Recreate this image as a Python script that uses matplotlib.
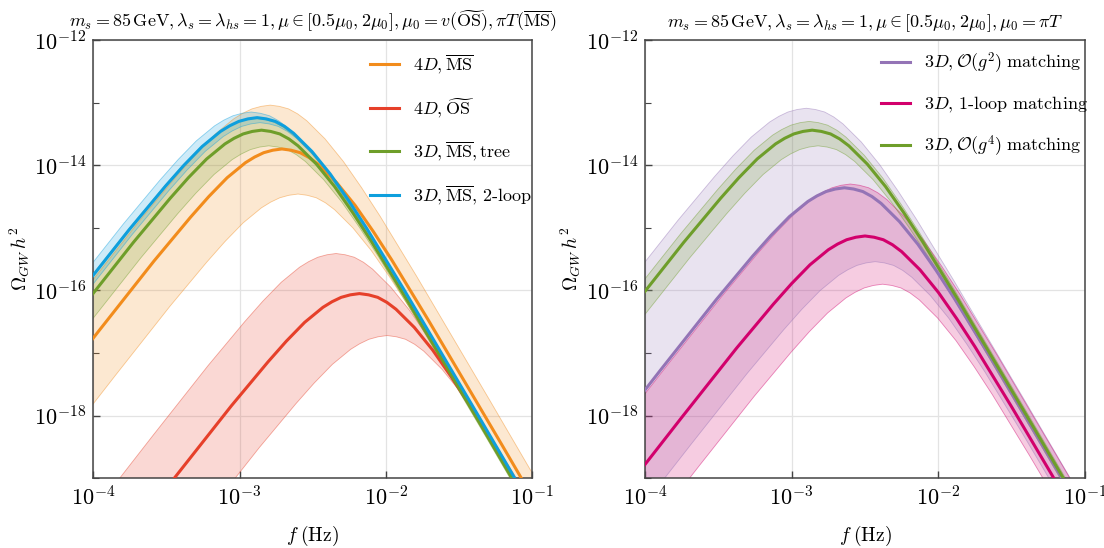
import matplotlib
matplotlib.use('Agg')
import matplotlib.pyplot as plt
import matplotlib.ticker as mticker
import numpy as np

plt.rcParams['mathtext.fontset'] = 'cm'
plt.rcParams['font.family'] = ['cmr10', 'DejaVu Serif']
plt.rcParams['axes.formatter.use_mathtext'] = True
plt.rcParams['axes.unicode_minus'] = False

# log10(f / Hz) and log10(Omega_GW h^2) along each spectrum
# --- left panel: 4D vs 3D, mu0 = v (OS) / pi T (MS)
f_4d_ms = [-4.71, -4.21, -3.96, -3.71, -3.585, -3.46, -3.335, -3.21, -3.085, -2.96, -2.8975, -2.835, -2.7725, -2.71, -2.6475, -2.585, -2.5225, -2.46, -2.335, -2.21, -2.085, -1.96, -1.835, -1.71, -1.46, -1.21, -0.71]
om_4d_ms = [-18.89, -17.39, -16.64, -15.90, -15.53, -15.18, -14.83, -14.50, -14.20, -13.96, -13.87, -13.80, -13.76, -13.74, -13.76, -13.80, -13.88, -13.99, -14.28, -14.64, -15.06, -15.51, -15.99, -16.47, -17.46, -18.45, -20.45]
f_4d_ms_hi = [-4.79, -4.29, -4.04, -3.79, -3.665, -3.54, -3.415, -3.29, -3.165, -3.04, -2.9775, -2.915, -2.8525, -2.79, -2.7275, -2.665, -2.6025, -2.54, -2.415, -2.29, -2.165, -2.04, -1.915, -1.79, -1.54, -1.29, -0.79]
om_4d_ms_hi = [-18.19, -16.69, -15.94, -15.20, -14.83, -14.48, -14.13, -13.80, -13.50, -13.26, -13.17, -13.10, -13.06, -13.04, -13.06, -13.10, -13.18, -13.29, -13.58, -13.94, -14.36, -14.81, -15.29, -15.77, -16.76, -17.75, -19.75]
f_4d_ms_lo = [-4.60, -4.10, -3.85, -3.60, -3.475, -3.35, -3.225, -3.10, -2.975, -2.85, -2.7875, -2.725, -2.6625, -2.60, -2.5375, -2.475, -2.4125, -2.35, -2.225, -2.10, -1.975, -1.85, -1.725, -1.60, -1.35, -1.10, -0.60]
om_4d_ms_lo = [-19.61, -18.11, -17.36, -16.62, -16.25, -15.90, -15.55, -15.22, -14.92, -14.68, -14.59, -14.52, -14.48, -14.46, -14.48, -14.52, -14.60, -14.71, -15.00, -15.36, -15.78, -16.23, -16.71, -17.19, -18.18, -19.17, -21.17]

f_4d_os = [-4.18, -3.68, -3.43, -3.18, -3.055, -2.93, -2.805, -2.68, -2.555, -2.43, -2.3675, -2.305, -2.2425, -2.18, -2.1175, -2.055, -1.9925, -1.93, -1.805, -1.68, -1.555, -1.43, -1.305, -1.18, -0.93, -0.68, -0.18]
om_4d_os = [-21.20, -19.70, -18.95, -18.21, -17.84, -17.49, -17.14, -16.81, -16.51, -16.27, -16.18, -16.11, -16.07, -16.05, -16.07, -16.11, -16.19, -16.30, -16.59, -16.95, -17.37, -17.82, -18.30, -18.78, -19.77, -20.76, -22.76]
f_4d_os_hi = [-4.34, -3.84, -3.59, -3.34, -3.215, -3.09, -2.965, -2.84, -2.715, -2.59, -2.5275, -2.465, -2.4025, -2.34, -2.2775, -2.215, -2.1525, -2.09, -1.965, -1.84, -1.715, -1.59, -1.465, -1.34, -1.09, -0.84, -0.34]
om_4d_os_hi = [-20.56, -19.06, -18.31, -17.57, -17.20, -16.85, -16.50, -16.17, -15.87, -15.63, -15.54, -15.47, -15.43, -15.41, -15.43, -15.47, -15.55, -15.66, -15.95, -16.31, -16.73, -17.18, -17.66, -18.14, -19.13, -20.12, -22.12]
f_4d_os_lo = [-3.99, -3.49, -3.24, -2.99, -2.865, -2.74, -2.615, -2.49, -2.365, -2.24, -2.1775, -2.115, -2.0525, -1.99, -1.9275, -1.865, -1.8025, -1.74, -1.615, -1.49, -1.365, -1.24, -1.115, -0.99, -0.74, -0.49, 0.01]
om_4d_os_lo = [-21.87, -20.37, -19.62, -18.88, -18.51, -18.16, -17.81, -17.48, -17.18, -16.94, -16.85, -16.78, -16.74, -16.72, -16.74, -16.78, -16.86, -16.97, -17.26, -17.62, -18.04, -18.49, -18.97, -19.45, -20.44, -21.43, -23.43]

f_3d_tree = [-4.85, -4.35, -4.10, -3.85, -3.725, -3.60, -3.475, -3.35, -3.225, -3.10, -3.0375, -2.975, -2.9125, -2.85, -2.7875, -2.725, -2.6625, -2.60, -2.475, -2.35, -2.225, -2.10, -1.975, -1.85, -1.60, -1.35, -0.85]
om_3d_tree = [-18.59, -17.09, -16.34, -15.60, -15.23, -14.88, -14.53, -14.20, -13.90, -13.66, -13.57, -13.50, -13.46, -13.44, -13.46, -13.50, -13.58, -13.69, -13.98, -14.34, -14.76, -15.21, -15.69, -16.17, -17.16, -18.15, -20.15]
f_3d_tree_hi = [-4.89, -4.39, -4.14, -3.89, -3.765, -3.64, -3.515, -3.39, -3.265, -3.14, -3.0775, -3.015, -2.9525, -2.89, -2.8275, -2.765, -2.7025, -2.64, -2.515, -2.39, -2.265, -2.14, -2.015, -1.89, -1.64, -1.39, -0.89]
om_3d_tree_hi = [-18.40, -16.90, -16.15, -15.41, -15.04, -14.69, -14.34, -14.01, -13.71, -13.47, -13.38, -13.31, -13.27, -13.25, -13.27, -13.31, -13.39, -13.50, -13.79, -14.15, -14.57, -15.02, -15.50, -15.98, -16.97, -17.96, -19.96]
f_3d_tree_lo = [-4.80, -4.30, -4.05, -3.80, -3.675, -3.55, -3.425, -3.30, -3.175, -3.05, -2.9875, -2.925, -2.8625, -2.80, -2.7375, -2.675, -2.6125, -2.55, -2.425, -2.30, -2.175, -2.05, -1.925, -1.80, -1.55, -1.30, -0.80]
om_3d_tree_lo = [-18.84, -17.34, -16.59, -15.85, -15.48, -15.13, -14.78, -14.45, -14.15, -13.91, -13.82, -13.75, -13.71, -13.69, -13.71, -13.75, -13.83, -13.94, -14.23, -14.59, -15.01, -15.46, -15.94, -16.42, -17.41, -18.40, -20.40]

f_3d_2loop = [-4.88, -4.38, -4.13, -3.88, -3.755, -3.63, -3.505, -3.38, -3.255, -3.13, -3.0675, -3.005, -2.9425, -2.88, -2.8175, -2.755, -2.6925, -2.63, -2.505, -2.38, -2.255, -2.13, -2.005, -1.88, -1.63, -1.38, -0.88]
om_3d_2loop = [-18.39, -16.89, -16.14, -15.40, -15.03, -14.68, -14.33, -14.00, -13.70, -13.46, -13.37, -13.30, -13.26, -13.24, -13.26, -13.30, -13.38, -13.49, -13.78, -14.14, -14.56, -15.01, -15.49, -15.97, -16.96, -17.95, -19.95]
f_3d_2loop_hi = [-4.92, -4.42, -4.17, -3.92, -3.795, -3.67, -3.545, -3.42, -3.295, -3.17, -3.1075, -3.045, -2.9825, -2.92, -2.8575, -2.795, -2.7325, -2.67, -2.545, -2.42, -2.295, -2.17, -2.045, -1.92, -1.67, -1.42, -0.92]
om_3d_2loop_hi = [-18.30, -16.80, -16.05, -15.31, -14.94, -14.59, -14.24, -13.91, -13.61, -13.37, -13.28, -13.21, -13.17, -13.15, -13.17, -13.21, -13.29, -13.40, -13.69, -14.05, -14.47, -14.92, -15.40, -15.88, -16.87, -17.86, -19.86]
f_3d_2loop_lo = [-4.86, -4.36, -4.11, -3.86, -3.735, -3.61, -3.485, -3.36, -3.235, -3.11, -3.0475, -2.985, -2.9225, -2.86, -2.7975, -2.735, -2.6725, -2.61, -2.485, -2.36, -2.235, -2.11, -1.985, -1.86, -1.61, -1.36, -0.86]
om_3d_2loop_lo = [-18.47, -16.97, -16.22, -15.48, -15.11, -14.76, -14.41, -14.08, -13.78, -13.54, -13.45, -13.38, -13.34, -13.32, -13.34, -13.38, -13.46, -13.57, -13.86, -14.22, -14.64, -15.09, -15.57, -16.05, -17.04, -18.03, -20.03]

# --- right panel: 3D matching order, mu0 = pi T
f_g2 = [-4.64, -4.14, -3.89, -3.64, -3.515, -3.39, -3.265, -3.14, -3.015, -2.89, -2.8275, -2.765, -2.7025, -2.64, -2.5775, -2.515, -2.4525, -2.39, -2.265, -2.14, -2.015, -1.89, -1.765, -1.64, -1.39, -1.14, -0.64]
om_g2 = [-19.51, -18.01, -17.26, -16.52, -16.15, -15.80, -15.45, -15.12, -14.82, -14.58, -14.49, -14.42, -14.38, -14.36, -14.38, -14.42, -14.50, -14.61, -14.90, -15.26, -15.68, -16.13, -16.61, -17.09, -18.08, -19.07, -21.07]
f_g2_hi = [-4.90, -4.40, -4.15, -3.90, -3.775, -3.65, -3.525, -3.40, -3.275, -3.15, -3.0875, -3.025, -2.9625, -2.90, -2.8375, -2.775, -2.7125, -2.65, -2.525, -2.40, -2.275, -2.15, -2.025, -1.90, -1.65, -1.40, -0.90]
om_g2_hi = [-18.24, -16.74, -15.99, -15.25, -14.88, -14.53, -14.18, -13.85, -13.55, -13.31, -13.22, -13.15, -13.11, -13.09, -13.11, -13.15, -13.23, -13.34, -13.63, -13.99, -14.41, -14.86, -15.34, -15.82, -16.81, -17.80, -19.80]
f_g2_lo = [-4.43, -3.93, -3.68, -3.43, -3.305, -3.18, -3.055, -2.93, -2.805, -2.68, -2.6175, -2.555, -2.4925, -2.43, -2.3675, -2.305, -2.2425, -2.18, -2.055, -1.93, -1.805, -1.68, -1.555, -1.43, -1.18, -0.93, -0.43]
om_g2_lo = [-20.69, -19.19, -18.44, -17.70, -17.33, -16.98, -16.63, -16.30, -16.00, -15.76, -15.67, -15.60, -15.56, -15.54, -15.56, -15.60, -15.68, -15.79, -16.08, -16.44, -16.86, -17.31, -17.79, -18.27, -19.26, -20.25, -22.25]

f_1loop = [-4.50, -4.00, -3.75, -3.50, -3.375, -3.25, -3.125, -3.00, -2.875, -2.75, -2.6875, -2.625, -2.5625, -2.50, -2.4375, -2.375, -2.3125, -2.25, -2.125, -2.00, -1.875, -1.75, -1.625, -1.50, -1.25, -1.00, -0.50]
om_1loop = [-20.28, -18.78, -18.03, -17.29, -16.92, -16.57, -16.22, -15.89, -15.59, -15.35, -15.26, -15.19, -15.15, -15.13, -15.15, -15.19, -15.27, -15.38, -15.67, -16.03, -16.45, -16.90, -17.38, -17.86, -18.85, -19.84, -21.84]
f_1loop_hi = [-4.60, -4.10, -3.85, -3.60, -3.475, -3.35, -3.225, -3.10, -2.975, -2.85, -2.7875, -2.725, -2.6625, -2.60, -2.5375, -2.475, -2.4125, -2.35, -2.225, -2.10, -1.975, -1.85, -1.725, -1.60, -1.35, -1.10, -0.60]
om_1loop_hi = [-19.45, -17.95, -17.20, -16.46, -16.09, -15.74, -15.39, -15.06, -14.76, -14.52, -14.43, -14.36, -14.32, -14.30, -14.32, -14.36, -14.44, -14.55, -14.84, -15.20, -15.62, -16.07, -16.55, -17.03, -18.02, -19.01, -21.01]
f_1loop_lo = [-4.38, -3.88, -3.63, -3.38, -3.255, -3.13, -3.005, -2.88, -2.755, -2.63, -2.5675, -2.505, -2.4425, -2.38, -2.3175, -2.255, -2.1925, -2.13, -2.005, -1.88, -1.755, -1.63, -1.505, -1.38, -1.13, -0.88, -0.38]
om_1loop_lo = [-21.05, -19.55, -18.80, -18.06, -17.69, -17.34, -16.99, -16.66, -16.36, -16.12, -16.03, -15.96, -15.92, -15.90, -15.92, -15.96, -16.04, -16.15, -16.44, -16.80, -17.22, -17.67, -18.15, -18.63, -19.62, -20.61, -22.61]

f_g4 = [-4.86, -4.36, -4.11, -3.86, -3.735, -3.61, -3.485, -3.36, -3.235, -3.11, -3.0475, -2.985, -2.9225, -2.86, -2.7975, -2.735, -2.6725, -2.61, -2.485, -2.36, -2.235, -2.11, -1.985, -1.86, -1.61, -1.36, -0.86]
om_g4 = [-18.59, -17.09, -16.34, -15.60, -15.23, -14.88, -14.53, -14.20, -13.90, -13.66, -13.57, -13.50, -13.46, -13.44, -13.46, -13.50, -13.58, -13.69, -13.98, -14.34, -14.76, -15.21, -15.69, -16.17, -17.16, -18.15, -20.15]
f_g4_hi = [-4.88, -4.38, -4.13, -3.88, -3.755, -3.63, -3.505, -3.38, -3.255, -3.13, -3.0675, -3.005, -2.9425, -2.88, -2.8175, -2.755, -2.6925, -2.63, -2.505, -2.38, -2.255, -2.13, -2.005, -1.88, -1.63, -1.38, -0.88]
om_g4_hi = [-18.45, -16.95, -16.20, -15.46, -15.09, -14.74, -14.39, -14.06, -13.76, -13.52, -13.43, -13.36, -13.32, -13.30, -13.32, -13.36, -13.44, -13.55, -13.84, -14.20, -14.62, -15.07, -15.55, -16.03, -17.02, -18.01, -20.01]
f_g4_lo = [-4.82, -4.32, -4.07, -3.82, -3.695, -3.57, -3.445, -3.32, -3.195, -3.07, -3.0075, -2.945, -2.8825, -2.82, -2.7575, -2.695, -2.6325, -2.57, -2.445, -2.32, -2.195, -2.07, -1.945, -1.82, -1.57, -1.32, -0.82]
om_g4_lo = [-18.84, -17.34, -16.59, -15.85, -15.48, -15.13, -14.78, -14.45, -14.15, -13.91, -13.82, -13.75, -13.71, -13.69, -13.71, -13.75, -13.83, -13.94, -14.23, -14.59, -15.01, -15.46, -15.94, -16.42, -17.41, -18.40, -20.40]

# axis ticks
x_ticks = [1e-4, 1e-3, 1e-2, 1e-1]
y_ticks = [1e-18, 1e-16, 1e-14, 1e-12]
y_minor = [1e-19, 1e-17, 1e-15, 1e-13]

ORANGE = '#F28C1C'
RED = '#E6402A'
GREEN = '#6E9E2A'
BLUE = '#0E9FDD'
PURPLE = '#9474B6'
MAGENTA = '#D2006C'


def pw(a):
    return 10.0 ** np.asarray(a)


def band(ax, f_hi, om_hi, f_lo, om_lo, color):
    xs = np.concatenate([pw(f_hi), pw(f_lo)[::-1]])
    ys = np.concatenate([pw(om_hi), pw(om_lo)[::-1]])
    ax.fill(xs, ys, color=color, alpha=0.2, lw=0, zorder=1)
    ax.plot(pw(f_hi), pw(om_hi), color=color, lw=0.6, alpha=0.45, zorder=1.5)
    ax.plot(pw(f_lo), pw(om_lo), color=color, lw=0.6, alpha=0.45, zorder=1.5)


def style_axes(ax, title):
    ax.set_xscale('log')
    ax.set_yscale('log')
    ax.set_xlim(1e-4, 1e-1)
    ax.set_ylim(1e-19, 1e-12)
    ax.xaxis.set_major_locator(mticker.FixedLocator(x_ticks))
    ax.xaxis.set_major_formatter(mticker.LogFormatterSciNotation(base=10))
    ax.xaxis.set_minor_locator(mticker.NullLocator())
    ax.yaxis.set_major_locator(mticker.FixedLocator(y_ticks))
    ax.yaxis.set_major_formatter(mticker.LogFormatterSciNotation(base=10))
    ax.yaxis.set_minor_locator(mticker.FixedLocator(y_minor))
    ax.yaxis.set_minor_formatter(mticker.NullFormatter())
    ax.tick_params(which='both', direction='in', color='#444444', labelsize=16, pad=5)
    ax.tick_params(which='major', length=5, width=1.0)
    ax.tick_params(which='minor', length=4, width=0.8)
    ax.grid(True, which='major', color='#e3e3e3', lw=0.9)
    ax.set_axisbelow(True)
    for s in ax.spines.values():
        s.set_color('#444444')
        s.set_linewidth(1.1)
    ax.set_xlabel(r'$f\;(\mathrm{Hz})$', fontsize=14)
    ax.set_ylabel(r'$\Omega_{GW}\,h^2$', fontsize=14)
    ax.xaxis.set_label_coords(0.5, -0.105)
    ax.yaxis.set_label_coords(-0.14, 0.5)
    ax.set_title(title, fontsize=13, pad=9)


fig = plt.figure(figsize=(11.04, 5.48), dpi=100)
ax1 = fig.add_axes([0.0845, 0.1272, 0.3974, 0.7998])
ax2 = fig.add_axes([0.5842, 0.1272, 0.3986, 0.7998])

# left: 4D vs 3D
band(ax1, f_4d_ms_hi, om_4d_ms_hi, f_4d_ms_lo, om_4d_ms_lo, ORANGE)
band(ax1, f_4d_os_hi, om_4d_os_hi, f_4d_os_lo, om_4d_os_lo, RED)
band(ax1, f_3d_tree_hi, om_3d_tree_hi, f_3d_tree_lo, om_3d_tree_lo, GREEN)
band(ax1, f_3d_2loop_hi, om_3d_2loop_hi, f_3d_2loop_lo, om_3d_2loop_lo, BLUE)
ax1.plot(pw(f_4d_ms), pw(om_4d_ms), color=ORANGE, lw=2.2, zorder=3, label=r'$4D, \overline{\mathrm{MS}}$')
ax1.plot(pw(f_4d_os), pw(om_4d_os), color=RED, lw=2.2, zorder=3, label=r'$4D, \widetilde{\mathrm{OS}}$')
ax1.plot(pw(f_3d_tree), pw(om_3d_tree), color=GREEN, lw=2.2, zorder=3, label=r'$3D, \overline{\mathrm{MS}}, \mathrm{tree}$')
ax1.plot(pw(f_3d_2loop), pw(om_3d_2loop), color=BLUE, lw=2.2, zorder=3, label=r'$3D, \overline{\mathrm{MS}},\,$2-loop')
style_axes(ax1, r'$m_s = 85\,\mathrm{GeV}, \lambda_s = \lambda_{hs} = 1, \mu \in [0.5\mu_0, 2\mu_0], \mu_0 = v(\widetilde{\mathrm{OS}}), \pi T(\overline{\mathrm{MS}})$')
ax1.legend(loc='upper right', bbox_to_anchor=(1.03, 1.0), frameon=False, fontsize=13,
           handlelength=1.6, handletextpad=0.8, labelspacing=1.1, borderaxespad=0.3)

# right: matching order in 3D
band(ax2, f_g2_hi, om_g2_hi, f_g2_lo, om_g2_lo, PURPLE)
band(ax2, f_1loop_hi, om_1loop_hi, f_1loop_lo, om_1loop_lo, MAGENTA)
band(ax2, f_g4_hi, om_g4_hi, f_g4_lo, om_g4_lo, GREEN)
ax2.plot(pw(f_g2), pw(om_g2), color=PURPLE, lw=2.2, zorder=3, label=r'$3D, \mathcal{O}(g^2)\;\mathrm{matching}$')
ax2.plot(pw(f_1loop), pw(om_1loop), color=MAGENTA, lw=2.2, zorder=3, label=r'$3D,\,$1-loop matching')
ax2.plot(pw(f_g4), pw(om_g4), color=GREEN, lw=2.2, zorder=3, label=r'$3D, \mathcal{O}(g^4)\;\mathrm{matching}$')
style_axes(ax2, r'$m_s = 85\,\mathrm{GeV}, \lambda_s = \lambda_{hs} = 1, \mu \in [0.5\mu_0, 2\mu_0], \mu_0 = \pi T$')
ax2.legend(loc='upper right', bbox_to_anchor=(1.036, 1.005), frameon=False, fontsize=13,
           handlelength=1.6, handletextpad=0.8, labelspacing=1.05, borderaxespad=0.3)

fig.savefig('out.png', dpi=100)
plt.close(fig)
